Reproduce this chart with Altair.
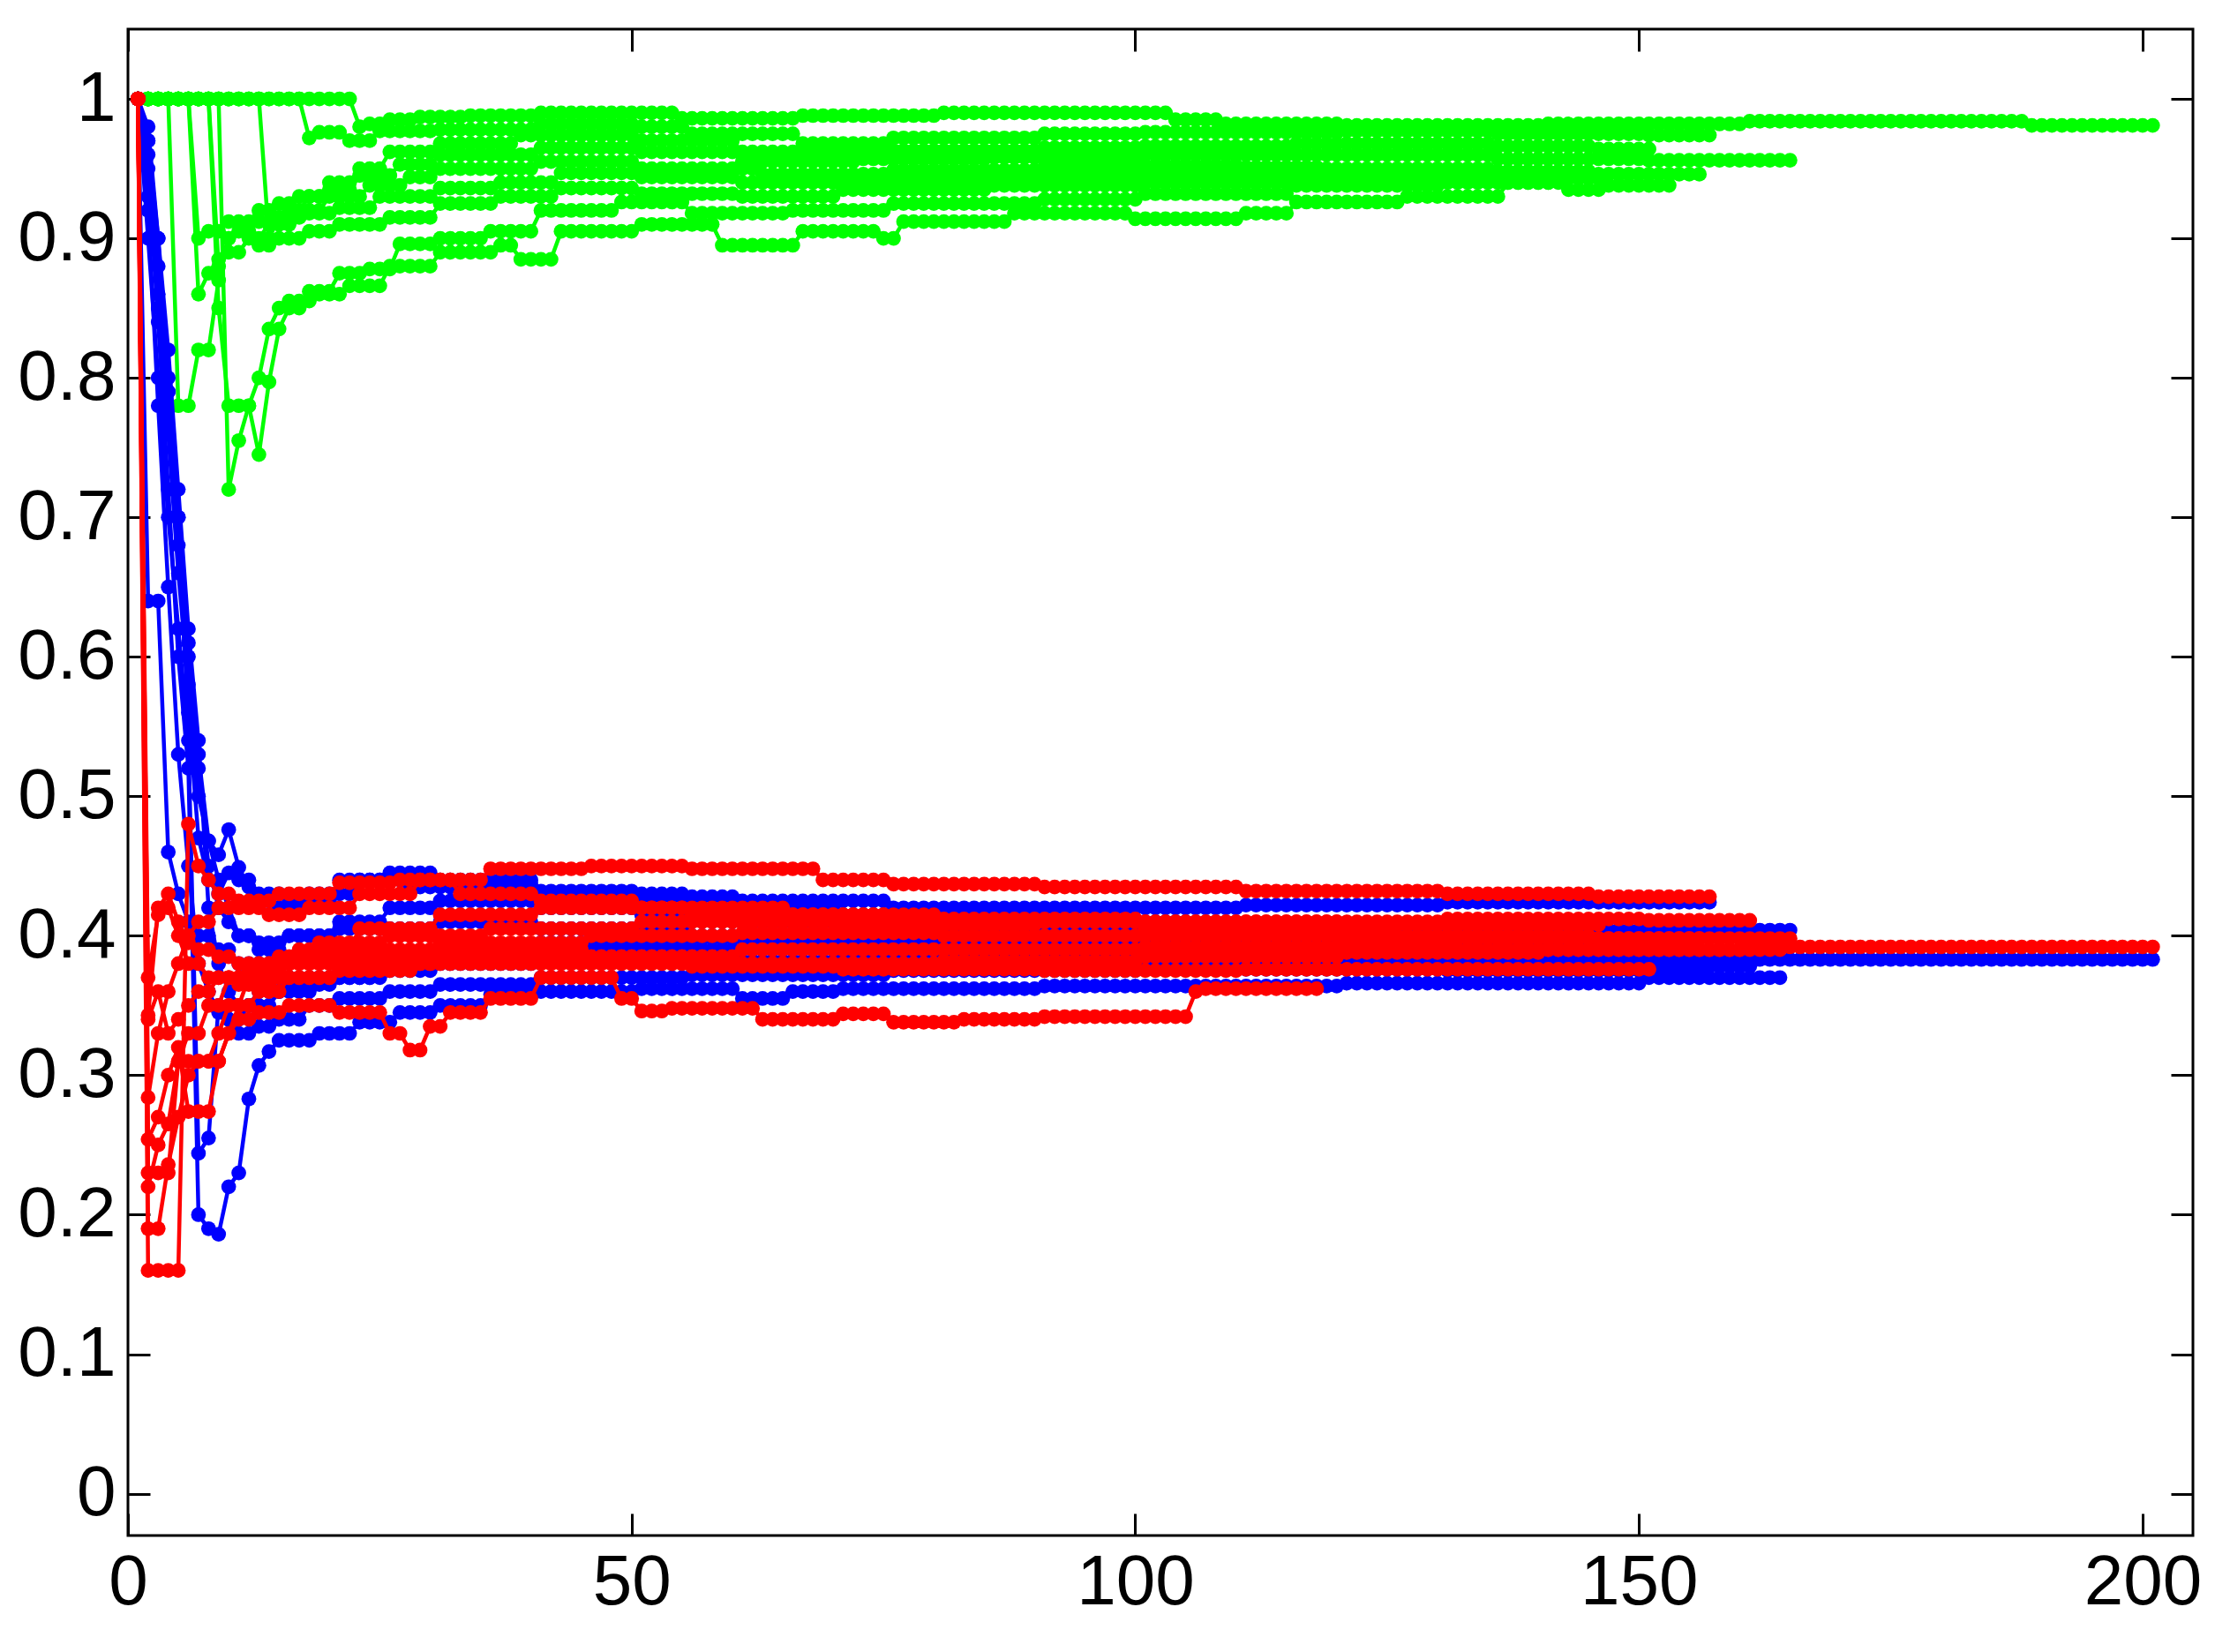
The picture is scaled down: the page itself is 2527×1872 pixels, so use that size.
import altair as alt
import pandas as pd

# ---- axis ticks ----
X_TICKS = [0, 50, 100, 150, 200]
Y_TICKS = [0, 0.1, 0.2, 0.3, 0.4, 0.5, 0.6, 0.7, 0.8, 0.9, 1]

# ---- series, written as (last x of run, value) ----
GREEN = [
    [(22,1.0),(23,0.98),(25,0.982),(28,0.985),(33,0.987),(40,0.988),(54,0.99),(66,0.986),(80,0.988),(103,0.99),(108,0.985),(120,0.982),(140,0.981),(160,0.982),(188,0.984),(201,0.981)],
    [(17,1.0),(18,0.972),(21,0.976),(24,0.97),(30,0.977),(40,0.978),(50,0.982),(55,0.98),(66,0.975),(75,0.968),(90,0.972),(100,0.975),(120,0.976),(135,0.977),(150,0.975),(157,0.974)],
    [(13,1.0),(14,0.9),(15,0.915),(17,0.92),(19,0.93),(22,0.94),(25,0.95),(30,0.962),(38,0.968),(50,0.974),(60,0.97),(75,0.962),(90,0.963),(100,0.965),(115,0.966),(135,0.968),(145,0.966),(151,0.964)],
    [(6,1.0),(7,0.9),(9,0.905),(12,0.912),(14,0.92),(16,0.925),(19,0.93),(22,0.935),(26,0.945),(30,0.953),(40,0.96),(50,0.965),(60,0.962),(72,0.955),(85,0.957),(100,0.958),(115,0.96),(135,0.96),(150,0.957),(165,0.956)],
    [(6,1.0),(7,0.86),(8,0.875),(9,0.885),(11,0.89),(13,0.9),(16,0.91),(19,0.92),(23,0.93),(27,0.938),(30,0.944),(40,0.95),(50,0.955),(62,0.95),(75,0.946),(90,0.949),(100,0.951),(110,0.952),(118,0.951)],
    [(8,1.0),(9,0.88),(10,0.9),(12,0.91),(14,0.912),(17,0.915),(20,0.918),(24,0.922),(30,0.93),(36,0.936),(42,0.94),(50,0.947),(60,0.944),(70,0.94),(85,0.942),(100,0.944),(115,0.946),(135,0.95),(145,0.948),(156,0.946)],
    [(4,1.0),(6,0.78),(8,0.82),(9,0.87),(10,0.9),(12,0.905),(14,0.895),(17,0.9),(20,0.905),(25,0.91),(30,0.915),(36,0.925),(42,0.93),(50,0.936),(60,0.932),(70,0.93),(85,0.935),(100,0.938),(115,0.94),(130,0.943),(146,0.943)],
    [(8,1.0),(9,0.85),(12,0.78),(13,0.745),(14,0.797),(15,0.835),(17,0.85),(20,0.862),(23,0.875),(26,0.878),(30,0.896),(35,0.9),(40,0.905),(48,0.92),(55,0.926),(65,0.918),(75,0.92),(90,0.925),(100,0.928),(115,0.932),(130,0.938),(141,0.94)],
    [(9,1.0),(10,0.72),(11,0.755),(12,0.78),(13,0.8),(14,0.835),(15,0.85),(18,0.855),(21,0.86),(25,0.866),(30,0.88),(36,0.89),(38,0.895),(42,0.885),(50,0.905),(58,0.91),(66,0.895),(74,0.905),(76,0.9),(87,0.912),(99,0.918),(110,0.914),(115,0.918),(126,0.926),(136,0.93),(142,0.94),(146,0.935),(153,0.938)],
]

BLUE = [
    [(1,1.0),(2,0.97),(3,0.85),(4,0.76),(5,0.66),(6,0.58),(7,0.5),(8,0.468),(9,0.458),(10,0.476),(11,0.449),(12,0.435),(14,0.425),(17,0.42),(22,0.43),(27,0.44),(33,0.435),(40,0.437),(50,0.432),(60,0.428),(75,0.425),(90,0.42),(110,0.42),(130,0.422),(145,0.424),(157,0.424)],
    [(1,1.0),(2,0.93),(3,0.86),(4,0.79),(5,0.7),(6,0.61),(7,0.53),(8,0.468),(9,0.44),(10,0.42),(12,0.4),(15,0.39),(20,0.4),(25,0.41),(30,0.42),(40,0.425),(50,0.42),(60,0.415),(80,0.41),(100,0.405),(125,0.404),(145,0.402),(165,0.404)],
    [(1,1.0),(2,0.98),(3,0.9),(4,0.82),(5,0.72),(6,0.62),(7,0.54),(8,0.42),(9,0.38),(10,0.36),(12,0.35),(15,0.36),(20,0.37),(25,0.375),(30,0.38),(40,0.39),(55,0.392),(70,0.39),(90,0.388),(110,0.386),(130,0.385),(160,0.384),(201,0.383)],
    [(1,1.0),(3,0.64),(4,0.46),(5,0.43),(6,0.41),(8,0.4),(10,0.39),(13,0.38),(16,0.37),(20,0.365),(25,0.37),(30,0.375),(40,0.38),(55,0.385),(70,0.382),(90,0.38),(110,0.378),(130,0.378),(161,0.378)],
    [(1,1.0),(2,0.95),(3,0.84),(4,0.72),(5,0.6),(6,0.52),(7,0.2),(8,0.19),(9,0.186),(10,0.22),(11,0.23),(12,0.283),(13,0.307),(14,0.317),(18,0.325),(22,0.33),(26,0.338),(30,0.345),(35,0.35),(40,0.358),(50,0.36),(60,0.362),(65,0.355),(70,0.36),(90,0.362),(120,0.364),(150,0.366),(164,0.37)],
    [(1,1.0),(2,0.9),(3,0.8),(4,0.7),(5,0.62),(6,0.54),(7,0.244),(8,0.255),(9,0.35),(10,0.34),(12,0.33),(14,0.335),(17,0.34),(20,0.35),(25,0.355),(30,0.36),(40,0.365),(55,0.37),(75,0.372),(100,0.375),(130,0.376),(156,0.375)],
    [(1,1.0),(2,0.96),(3,0.88),(4,0.79),(5,0.7),(6,0.6),(7,0.52),(8,0.45),(9,0.42),(10,0.41),(12,0.4),(15,0.395),(20,0.4),(30,0.405),(40,0.41),(55,0.405),(70,0.4),(90,0.398),(110,0.396),(130,0.395),(146,0.395)],
    [(1,1.0),(2,0.92),(3,0.78),(4,0.65),(5,0.53),(6,0.45),(7,0.38),(8,0.36),(9,0.345),(11,0.34),(14,0.35),(18,0.36),(24,0.37),(30,0.378),(40,0.388),(55,0.395),(70,0.398),(90,0.395),(110,0.392),(130,0.39),(151,0.39)],
    [(1,1.0),(2,0.97),(3,0.9),(4,0.8),(5,0.68),(6,0.56),(7,0.47),(8,0.44),(9,0.43),(10,0.445),(12,0.44),(15,0.43),(20,0.425),(25,0.44),(30,0.445),(40,0.44),(55,0.43),(70,0.42),(90,0.415),(105,0.41),(118,0.408)],
]

RED = [
    [(1,1.0),(5,0.16),(6,0.48),(7,0.45),(8,0.44),(10,0.43),(13,0.42),(17,0.415),(22,0.42),(28,0.43),(35,0.44),(45,0.448),(55,0.45),(68,0.448),(75,0.44),(90,0.437),(110,0.435),(130,0.432),(145,0.43),(157,0.428)],
    [(1,1.0),(3,0.19),(4,0.236),(5,0.27),(6,0.3),(8,0.31),(9,0.33),(11,0.35),(14,0.37),(18,0.385),(25,0.395),(35,0.4),(50,0.405),(70,0.41),(90,0.408),(110,0.41),(130,0.41),(150,0.412),(161,0.411)],
    [(1,1.0),(4,0.23),(5,0.31),(9,0.31),(10,0.33),(12,0.35),(15,0.36),(20,0.37),(28,0.375),(40,0.38),(60,0.385),(80,0.39),(100,0.39),(130,0.392),(160,0.39),(201,0.392)],
    [(1,1.0),(2,0.254),(3,0.27),(4,0.3),(5,0.32),(6,0.274),(8,0.274),(9,0.31),(10,0.33),(12,0.34),(15,0.345),(20,0.35),(25,0.345),(27,0.33),(29,0.318),(31,0.335),(35,0.345),(40,0.355),(45,0.37),(48,0.37),(50,0.355),(53,0.346),(62,0.348),(70,0.34),(75,0.344),(82,0.338),(90,0.34),(105,0.342),(106,0.36),(118,0.362)],
    [(1,1.0),(2,0.284),(3,0.33),(4,0.36),(5,0.38),(6,0.4),(8,0.41),(10,0.42),(14,0.425),(20,0.43),(26,0.438),(32,0.44),(40,0.43),(50,0.425),(65,0.42),(80,0.415),(100,0.412),(120,0.41),(146,0.408)],
    [(1,1.0),(2,0.343),(3,0.42),(4,0.43),(5,0.41),(6,0.395),(8,0.39),(10,0.385),(15,0.38),(20,0.385),(30,0.39),(40,0.385),(55,0.38),(70,0.378),(90,0.376),(110,0.375),(130,0.376),(151,0.376)],
    [(1,1.0),(2,0.37),(3,0.415),(4,0.42),(5,0.4),(7,0.38),(10,0.37),(14,0.365),(20,0.37),(30,0.38),(45,0.395),(60,0.4),(80,0.402),(100,0.4),(120,0.4),(140,0.398),(156,0.398)],
    [(1,1.0),(2,0.22),(3,0.25),(4,0.265),(5,0.31),(7,0.33),(9,0.35),(12,0.37),(16,0.38),(22,0.39),(30,0.405),(40,0.415),(55,0.42),(75,0.415),(100,0.41),(125,0.405),(145,0.4),(165,0.398)],
    [(1,1.0),(2,0.34),(3,0.36),(4,0.33),(5,0.34),(6,0.35),(8,0.36),(11,0.37),(15,0.375),(20,0.38),(30,0.385),(45,0.39),(60,0.385),(80,0.38),(100,0.382),(120,0.385),(140,0.388),(164,0.39)],
]


def to_frame(name, series_list):
    rows = []
    for i, steps in enumerate(series_list):
        start = 1
        for end, v in steps:
            for x in range(start, end + 1):
                rows.append({"x": x, "v": v, "series": f"{name}{i}"})
            start = end + 1
    return pd.DataFrame(rows)


W, H = 2340, 1707
FONT = "Liberation Sans"
xs = alt.Scale(domain=[0, 205], nice=False, zero=False)
ys = alt.Scale(domain=[-0.03, 1.05], nice=False, zero=False)


def tick_axis(orient, offset, values):
    return alt.Axis(orient=orient, offset=offset, values=values, labels=False,
                    domain=False, grid=False, ticks=True, tickSize=25,
                    tickWidth=3, tickColor="black", title=None)


def layer(df, color, xaxis, yaxis):
    return alt.Chart(df).mark_line(
        strokeWidth=4.5, color=color, clip=True,
        point=alt.OverlayMarkDef(filled=True, size=280, color=color, opacity=1)
    ).encode(
        x=alt.X("x:Q", scale=xs, axis=xaxis),
        y=alt.Y("v:Q", scale=ys, axis=yaxis),
        detail="series:N",
        order="x:Q",
    )


label_x = alt.Axis(orient="bottom", values=X_TICKS, ticks=False, tickSize=0,
                   domain=False, grid=False, labelFont=FONT, labelFontSize=80,
                   labelColor="black", labelPadding=14, labelFlush=False,
                   labelOverlap=False, title=None)
label_y = alt.Axis(orient="left", values=Y_TICKS, ticks=False, tickSize=0,
                   domain=False, grid=False, labelFont=FONT, labelFontSize=80,
                   labelColor="black", labelPadding=14, format="~g",
                   labelFlush=False, labelOverlap=False, title=None)

g = layer(to_frame("g", GREEN), "#00ff00", label_x, label_y)
b = layer(to_frame("b", BLUE), "#0000ff",
          tick_axis("top", -H, X_TICKS), tick_axis("right", -W, Y_TICKS))
r = layer(to_frame("r", RED), "#ff0000",
          tick_axis("bottom", -H, X_TICKS), tick_axis("left", -W, Y_TICKS))

chart = alt.layer(g, b, r).resolve_axis(x="independent", y="independent").properties(
    width=W, height=H,
    autosize=alt.AutoSizeParams(type="none"),
    padding={"left": 137, "top": 25, "right": 30, "bottom": 118},
    background="white",
).configure_view(stroke="black", strokeWidth=3)

chart.save("out.html", embed_options={"renderer": "svg", "actions": False})
